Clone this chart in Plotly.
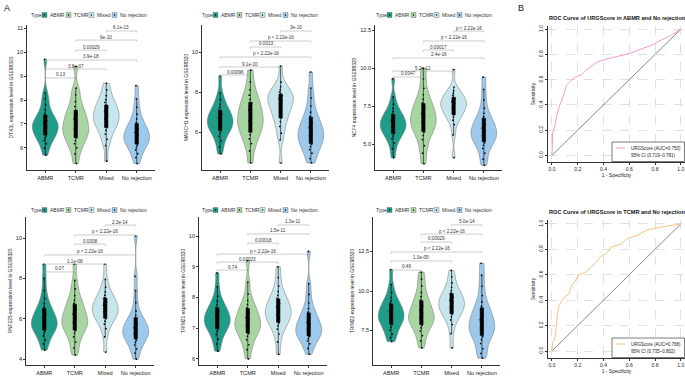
import plotly.graph_objects as go

W, H = 685, 377
GROUPS = ["ABMR", "TCMR", "Mixed", "No rejection"]
COLORS = ["#1f9d89", "#a8d5a2", "#c6e5ec", "#9dc9ec"]
GENES = ["DTX3L", "MARCH1", "NCF4", "RNF125", "TRIM21", "TRIM22"]

# ---- expression values (read as distribution quantiles from the picture) ----
DTX3L_ABMR = [5.7, 5.99, 6.18, 6.31, 6.41, 6.5, 6.58, 6.65, 6.72, 6.78, 6.85, 6.91, 6.96, 7.02, 7.09, 7.15, 7.23, 7.32, 7.43, 7.59, 7.8, 8.05, 8.3, 9.7]
DTX3L_TCMR = [5.35, 5.75, 6.0, 6.18, 6.31, 6.43, 6.53, 6.63, 6.72, 6.81, 6.9, 7.0, 7.1, 7.21, 7.32, 7.44, 7.57, 7.73, 7.93, 8.22, 8.5, 9.4]
DTX3L_MIXED = [5.45, 6.1, 6.36, 6.58, 6.73, 6.85, 6.95, 7.04, 7.12, 7.2, 7.27, 7.35, 7.43, 7.51, 7.6, 7.69, 7.79, 7.9, 8.02, 8.18, 8.42, 8.7]
DTX3L_NOREJ = [5.35, 5.6, 5.76, 5.92, 6.03, 6.12, 6.2, 6.26, 6.33, 6.39, 6.44, 6.5, 6.57, 6.64, 6.71, 6.79, 6.87, 6.96, 7.07, 7.21, 7.41, 7.7, 8.05, 8.6]

MARCH1_ABMR = [4.9, 5.25, 5.56, 5.78, 5.93, 6.05, 6.15, 6.24, 6.32, 6.4, 6.47, 6.55, 6.63, 6.71, 6.8, 6.89, 6.99, 7.1, 7.22, 7.38, 7.62, 7.95, 8.8]
MARCH1_TCMR = [4.45, 5.06, 5.42, 5.66, 5.86, 6.03, 6.18, 6.32, 6.45, 6.57, 6.7, 6.84, 6.98, 7.12, 7.28, 7.44, 7.63, 7.84, 8.11, 8.51, 9.1]
MARCH1_MIXED = [4.45, 5.6, 5.94, 6.28, 6.52, 6.7, 6.86, 7.0, 7.13, 7.26, 7.38, 7.5, 7.58, 7.65, 7.73, 7.81, 7.9, 8.01, 8.12, 8.27, 8.49, 9.3]
MARCH1_NOREJ = [4.45, 4.67, 4.94, 5.12, 5.27, 5.39, 5.51, 5.61, 5.71, 5.81, 5.9, 6.01, 6.12, 6.23, 6.35, 6.47, 6.62, 6.78, 6.99, 7.3, 7.7, 8.2, 9.0]

NCF4_ABMR = [4.1, 4.7, 5.07, 5.34, 5.52, 5.67, 5.79, 5.91, 6.01, 6.11, 6.21, 6.3, 6.4, 6.5, 6.61, 6.72, 6.84, 6.97, 7.13, 7.33, 7.62, 8.1, 9.3]
NCF4_TCMR = [3.7, 4.4, 4.89, 5.29, 5.56, 5.77, 5.96, 6.12, 6.28, 6.42, 6.56, 6.7, 6.85, 7.0, 7.16, 7.33, 7.51, 7.71, 7.94, 8.24, 8.67, 9.3, 10.0]
NCF4_MIXED = [4.1, 5.6, 6.28, 6.57, 6.77, 6.93, 7.06, 7.18, 7.29, 7.4, 7.5, 7.6, 7.69, 7.78, 7.87, 7.97, 8.07, 8.19, 8.33, 8.5, 8.75, 9.9]
NCF4_NOREJ = [3.6, 4.0, 4.4, 4.71, 4.92, 5.08, 5.23, 5.36, 5.47, 5.59, 5.69, 5.8, 5.92, 6.04, 6.17, 6.3, 6.44, 6.6, 6.78, 7.02, 7.36, 7.9, 8.6, 9.4]

RNF125_ABMR = [4.45, 4.75, 4.95, 5.15, 5.28, 5.39, 5.48, 5.56, 5.64, 5.71, 5.78, 5.85, 5.94, 6.03, 6.12, 6.22, 6.32, 6.44, 6.58, 6.75, 7.0, 7.4, 8.0, 8.7]
RNF125_TCMR = [4.2, 4.55, 4.85, 5.1, 5.28, 5.41, 5.53, 5.63, 5.73, 5.82, 5.91, 6.0, 6.11, 6.23, 6.35, 6.47, 6.61, 6.76, 6.93, 7.15, 7.48, 7.9, 8.7]
RNF125_MIXED = [4.35, 5.1, 5.51, 5.73, 5.88, 6.0, 6.1, 6.19, 6.27, 6.35, 6.42, 6.5, 6.58, 6.66, 6.75, 6.84, 6.94, 7.05, 7.17, 7.33, 7.57, 7.95, 8.7]
RNF125_NOREJ = [4.0, 4.3, 4.5, 4.7, 4.83, 4.94, 5.03, 5.11, 5.19, 5.26, 5.33, 5.4, 5.48, 5.55, 5.63, 5.71, 5.8, 5.91, 6.02, 6.17, 6.39, 6.8, 7.4, 8.1, 10.1]

TRIM21_ABMR = [6.25, 6.48, 6.64, 6.79, 6.89, 6.96, 7.03, 7.09, 7.15, 7.2, 7.25, 7.3, 7.36, 7.41, 7.47, 7.54, 7.6, 7.68, 7.77, 7.88, 8.04, 8.35, 8.8]
TRIM21_TCMR = [6.0, 6.3, 6.46, 6.62, 6.73, 6.82, 6.9, 6.96, 7.03, 7.09, 7.14, 7.2, 7.27, 7.34, 7.41, 7.49, 7.57, 7.66, 7.77, 7.9, 8.11, 8.5, 9.2]
TRIM21_MIXED = [6.15, 6.55, 6.81, 6.97, 7.08, 7.17, 7.25, 7.31, 7.38, 7.44, 7.49, 7.55, 7.61, 7.68, 7.74, 7.81, 7.89, 7.97, 8.07, 8.19, 8.37, 8.65, 9.0]
TRIM21_NOREJ = [6.15, 6.34, 6.49, 6.59, 6.66, 6.73, 6.79, 6.85, 6.9, 6.95, 7.0, 7.06, 7.13, 7.19, 7.26, 7.34, 7.42, 7.52, 7.64, 7.82, 8.1, 8.45, 9.5]

TRIM22_ABMR = [6.8, 7.05, 7.27, 7.54, 7.72, 7.87, 7.99, 8.11, 8.21, 8.31, 8.41, 8.5, 8.61, 8.72, 8.83, 8.95, 9.07, 9.22, 9.38, 9.59, 9.9, 10.4, 11.35]
TRIM22_TCMR = [6.4, 6.85, 7.18, 7.47, 7.67, 7.83, 7.96, 8.08, 8.19, 8.3, 8.4, 8.5, 8.64, 8.78, 8.92, 9.08, 9.24, 9.43, 9.64, 9.91, 10.31, 10.75, 11.2]
TRIM22_MIXED = [6.4, 7.3, 7.88, 8.17, 8.37, 8.53, 8.66, 8.78, 8.89, 9.0, 9.1, 9.2, 9.3, 9.4, 9.51, 9.62, 9.74, 9.87, 10.03, 10.23, 10.52, 10.9, 11.3]
TRIM22_NOREJ = [5.75, 6.05, 6.34, 6.68, 6.92, 7.1, 7.26, 7.4, 7.53, 7.66, 7.78, 7.9, 8.04, 8.18, 8.32, 8.48, 8.64, 8.83, 9.04, 9.31, 9.71, 10.3, 11.0, 11.75]

# ---- pairwise comparison labels and bracket heights ----
PAIRS = [(0, 1), (0, 2), (0, 3), (1, 2), (1, 3), (2, 3)]
DTX3L_P = ["0.13", "3.8e-07", "3.9e-18", "0.00029", "6e-10", "6.1e-13"]
MARCH1_P = ["0.00096", "9.1e-10", "p < 2.22e-16", "0.0013", "p < 2.22e-16", "3e-10"]
NCF4_P = ["0.0047", "5.2e-12", "2.4e-16", "0.00017", "p < 2.22e-16", "p < 2.22e-16"]
RNF125_P = ["0.07", "1.1e-08", "p < 2.22e-16", "0.0008", "p < 2.22e-16", "2.3e-14"]
TRIM21_P = ["0.74", "0.00023", "p < 2.22e-16", "0.00018", "1.5e-11", "1.3e-11"]
TRIM22_P = ["0.46", "1.3e-05", "p < 2.22e-16", "0.00029", "p < 2.22e-16", "5.0e-14"]

DTX3L_BRACKET_Y = [8.92, 9.29, 9.67, 10.08, 10.5, 10.88]
MARCH1_BRACKET_Y = [8.85, 9.25, 9.75, 10.25, 10.55, 11.05]
NCF4_BRACKET_Y = [9.41, 9.8, 10.66, 11.18, 11.78, 12.43]
RNF125_BRACKET_Y = [8.32, 8.71, 9.16, 9.7, 10.15, 10.64]
TRIM21_BRACKET_Y = [8.89, 9.15, 9.41, 9.77, 10.07, 10.36]
TRIM22_BRACKET_Y = [11.33, 11.9, 12.47, 13.1, 13.6, 14.18]

# ---- ROC curves ----
ROC_ABMR_FPR = [0, 0.0, 0.005, 0.013, 0.026, 0.04, 0.06, 0.078, 0.096, 0.116, 0.14, 0.18, 0.23, 0.27, 0.31, 0.35, 0.41, 0.5, 0.61, 0.71, 0.78, 0.84, 0.92, 1.0]
ROC_ABMR_TPR = [0, 0.14, 0.17, 0.2, 0.25, 0.33, 0.40, 0.44, 0.505, 0.56, 0.585, 0.62, 0.64, 0.68, 0.71, 0.74, 0.76, 0.78, 0.81, 0.85, 0.875, 0.91, 0.95, 1.0]
ROC_TCMR_FPR = [0, 0.005, 0.02, 0.03, 0.04, 0.057, 0.078, 0.103, 0.13, 0.155, 0.18, 0.207, 0.26, 0.30, 0.336, 0.375, 0.426, 0.465, 0.53, 0.594, 0.66, 0.736, 0.84, 0.97, 1.0]
ROC_TCMR_TPR = [0, 0.07, 0.09, 0.15, 0.28, 0.36, 0.40, 0.43, 0.445, 0.52, 0.55, 0.60, 0.62, 0.66, 0.69, 0.74, 0.77, 0.82, 0.84, 0.89, 0.91, 0.95, 0.975, 0.995, 1.0]
REF_LINE = [0, 1]
ROC_TITLES = ["ROC Curve of URGScore in ABMR and No rejection", "ROC Curve of URGScore in TCMR and No rejection"]
ROC_LEGEND = [["URGScore (AUC=0.750)", "95% CI (0.719\u20130.781)"],
              ["URGScore (AUC=0.768)", "95% CI (0.735\u20130.802)"]]
ROC_COLORS = ["#f39bc2", "#f6c27f"]

VIOLIN_DATA = [
    [DTX3L_ABMR, DTX3L_TCMR, DTX3L_MIXED, DTX3L_NOREJ],
    [MARCH1_ABMR, MARCH1_TCMR, MARCH1_MIXED, MARCH1_NOREJ],
    [NCF4_ABMR, NCF4_TCMR, NCF4_MIXED, NCF4_NOREJ],
    [RNF125_ABMR, RNF125_TCMR, RNF125_MIXED, RNF125_NOREJ],
    [TRIM21_ABMR, TRIM21_TCMR, TRIM21_MIXED, TRIM21_NOREJ],
    [TRIM22_ABMR, TRIM22_TCMR, TRIM22_MIXED, TRIM22_NOREJ],
]
P_LABELS = [DTX3L_P, MARCH1_P, NCF4_P, RNF125_P, TRIM21_P, TRIM22_P]
BRACKET_Y = [DTX3L_BRACKET_Y, MARCH1_BRACKET_Y, NCF4_BRACKET_Y, RNF125_BRACKET_Y, TRIM21_BRACKET_Y, TRIM22_BRACKET_Y]

# ---- layout (pixels) ----
PANEL_BOX = [(27, 155, 25, 170), (202, 329, 25, 170), (375, 502, 25, 170),
             (26, 154, 217, 365), (199, 327, 217, 365), (373, 500, 217, 365)]
Y_RANGE = [(5.08, 11.13), (4.1, 11.35), (3.29, 12.83), (3.71, 11.04), (5.8, 10.62), (5.32, 14.68)]
Y_TICKS = [[6, 7, 8, 9, 10, 11], [6, 8, 10], [5, 7.5, 10, 12.5], [4, 6, 8, 10], [6, 7, 8, 9, 10], [7.5, 10, 12.5]]
Y_FMT = ["d", "d", ".1f", "d", "d", ".1f"]
BANDWIDTH = [0.25, 0.33, 0.36, 0.3, 0.19, 0.37]
LEGEND_POS = [(29, 15), (200, 15), (374, 15), (29, 210), (200, 210), (374, 210)]
LEG_BOX_OFF = [13, 37, 60, 83]
ROC_BOX = [(548, 685, 26, 162), (548, 685, 220, 358)]
ROC_XR = (-0.031, 1.033)
ROC_YR = [(-0.053, 1.026), (-0.055, 1.031)]

FONT = "Liberation Sans"


def fx(px):
    return px / W


def fy(py):
    return 1 - py / H


fig = go.Figure()
layout = dict(width=W, height=H, margin=dict(l=0, r=0, t=0, b=0),
              paper_bgcolor="white", plot_bgcolor="white",
              font=dict(family=FONT, color="#222", size=6),
              showlegend=False, violinmode="overlay", template="none")
shapes, annotations = [], []

for i, gene in enumerate(GENES):
    k = i + 1
    xa = "x" if k == 1 else f"x{k}"
    ya = "y" if k == 1 else f"y{k}"
    x0, x1, y0, y1 = PANEL_BOX[i]
    for j, g in enumerate(GROUPS):
        vals = VIOLIN_DATA[i][j]
        fig.add_trace(go.Violin(
            x=[g] * len(vals), y=vals, xaxis=xa, yaxis=ya,
            fillcolor=COLORS[j], opacity=1,
            line=dict(color="#707070", width=0.5),
            points="all", pointpos=0, jitter=0.14,
            marker=dict(color="black", size=1.7, line=dict(width=0)),
            box=dict(visible=True, width=0.13, fillcolor="black", line=dict(color="black", width=0.6)),
            meanline=dict(visible=False),
            spanmode="hard", bandwidth=BANDWIDTH[i], scalemode="width", width=0.85,
            showlegend=False, hoveron="violins"))
    layout["xaxis" if k == 1 else f"xaxis{k}"] = dict(
        domain=[fx(x0), fx(x1)], anchor=ya, range=[-0.6, 3.6],
        type="category", categoryorder="array", categoryarray=GROUPS,
        showline=True, linecolor="#333", linewidth=0.6, ticks="outside", ticklen=2,
        tickwidth=0.6, tickcolor="#333", tickfont=dict(size=5.6, color="#222"),
        showgrid=False, zeroline=False, automargin=False)
    layout["yaxis" if k == 1 else f"yaxis{k}"] = dict(
        domain=[fy(y1), fy(y0)], anchor=xa, range=list(Y_RANGE[i]),
        tickvals=Y_TICKS[i], tickformat=Y_FMT[i],
        showline=True, linecolor="#333", linewidth=0.6, ticks="outside", ticklen=2,
        tickwidth=0.6, tickcolor="#333", tickfont=dict(size=5.6, color="#222"),
        showgrid=False, zeroline=False, automargin=False,
        title=dict(text=f"{gene} expression level in GSE98320", font=dict(size=4.9), standoff=3))
    # comparison brackets
    upp = (Y_RANGE[i][1] - Y_RANGE[i][0]) / (y1 - y0)
    tip = 1.6 * upp
    for (a, b), yb, lab in zip(PAIRS, BRACKET_Y[i], P_LABELS[i]):
        lc = dict(color="#9a9a9a", width=0.5)
        shapes.append(dict(type="line", xref=xa, yref=ya, x0=a, x1=b, y0=yb, y1=yb, line=lc))
        shapes.append(dict(type="line", xref=xa, yref=ya, x0=a, x1=a, y0=yb, y1=yb - tip, line=lc))
        shapes.append(dict(type="line", xref=xa, yref=ya, x0=b, x1=b, y0=yb, y1=yb - tip, line=lc))
        annotations.append(dict(x=(a + b) / 2, y=yb, xref=xa, yref=ya, text=lab, showarrow=False,
                                yanchor="bottom", xanchor="center", yshift=-1.5,
                                font=dict(size=4.6, color="#333")))
    # legend
    lx, ly = LEGEND_POS[i]
    annotations.append(dict(x=fx(lx), y=fy(ly), xref="paper", yref="paper", text="Type",
                            showarrow=False, xanchor="left", yanchor="middle",
                            font=dict(size=5, color="#333")))
    for j, g in enumerate(GROUPS):
        bx = lx + LEG_BOX_OFF[j]
        shapes.append(dict(type="rect", xref="paper", yref="paper",
                           x0=fx(bx), x1=fx(bx + 5), y0=fy(ly + 2.5), y1=fy(ly - 2.5),
                           fillcolor=COLORS[j], line=dict(color="#666", width=0.4)))
        shapes.append(dict(type="circle", xref="paper", yref="paper",
                           x0=fx(bx + 1.8), x1=fx(bx + 3.2), y0=fy(ly + 0.7), y1=fy(ly - 0.7),
                           fillcolor="black", line=dict(width=0)))
        annotations.append(dict(x=fx(bx + 6), y=fy(ly), xref="paper", yref="paper", text=g,
                                showarrow=False, xanchor="left", yanchor="middle",
                                font=dict(size=5, color="#333")))

# ROC panels
ROC_FPR = [ROC_ABMR_FPR, ROC_TCMR_FPR]
ROC_TPR = [ROC_ABMR_TPR, ROC_TCMR_TPR]
for r in range(2):
    k = 7 + r
    xa, ya = f"x{k}", f"y{k}"
    x0, x1, y0, y1 = ROC_BOX[r]
    fig.add_trace(go.Scatter(x=REF_LINE, y=REF_LINE, xaxis=xa, yaxis=ya, mode="lines",
                             line=dict(color="#555", width=0.7), showlegend=False, hoverinfo="skip"))
    fig.add_trace(go.Scatter(x=ROC_FPR[r], y=ROC_TPR[r], xaxis=xa, yaxis=ya, mode="lines",
                             line=dict(color=ROC_COLORS[r], width=1), showlegend=False))
    common = dict(showline=True, linecolor="#333", linewidth=0.6, ticks="outside", ticklen=2,
                  tickwidth=0.6, tickcolor="#333", tickfont=dict(size=5, color="#222"),
                  tickvals=[0, 0.2, 0.4, 0.6, 0.8, 1.0], tickformat=".1f",
                  showgrid=True, gridcolor="#e0e0e0", gridwidth=0.5, griddash="dash",
                  zeroline=False, automargin=False)
    layout[f"xaxis{k}"] = dict(common, domain=[fx(x0), fx(x1)], anchor=ya, range=list(ROC_XR),
                               title=dict(text="1 - Specificity", font=dict(size=5), standoff=2))
    layout[f"yaxis{k}"] = dict(common, domain=[fy(y1), fy(y0)], anchor=xa, range=list(ROC_YR[r]),
                               tickangle=-90,
                               title=dict(text="Sensitivity", font=dict(size=5), standoff=2))
    annotations.append(dict(x=fx(617), y=fy(y0 - 8), xref="paper", yref="paper",
                            text="<b>" + ROC_TITLES[r] + "</b>", showarrow=False,
                            xanchor="center", yanchor="middle", font=dict(size=5.6, color="#111")))
    # legend box
    ltop = y1 - 20
    shapes.append(dict(type="rect", xref="paper", yref="paper", x0=fx(612), x1=fx(684.5),
                       y0=fy(y1 - 0.5), y1=fy(ltop), line=dict(color="#222", width=0.6),
                       fillcolor="white", layer="above"))
    shapes.append(dict(type="line", xref="paper", yref="paper", x0=fx(616), x1=fx(625),
                       y0=fy(ltop + 6), y1=fy(ltop + 6), line=dict(color=ROC_COLORS[r], width=1)))
    annotations.append(dict(x=fx(629), y=fy(ltop + 6), xref="paper", yref="paper",
                            text=ROC_LEGEND[r][0], showarrow=False, xanchor="left", yanchor="middle",
                            font=dict(size=4.5, color="#222")))
    annotations.append(dict(x=fx(629), y=fy(ltop + 13), xref="paper", yref="paper",
                            text=ROC_LEGEND[r][1], showarrow=False, xanchor="left", yanchor="middle",
                            font=dict(size=4.5, color="#222")))

annotations.append(dict(x=fx(2), y=fy(8), xref="paper", yref="paper", text="A", showarrow=False,
                        xanchor="left", yanchor="middle", font=dict(size=9, color="#111")))
annotations.append(dict(x=fx(516), y=fy(8), xref="paper", yref="paper", text="B", showarrow=False,
                        xanchor="left", yanchor="middle", font=dict(size=9, color="#111")))

layout["shapes"] = shapes
layout["annotations"] = annotations
fig.update_layout(**layout)
fig.write_html("out.html", config={"displayModeBar": False},
               post_script="document.body.style.margin='0';")
